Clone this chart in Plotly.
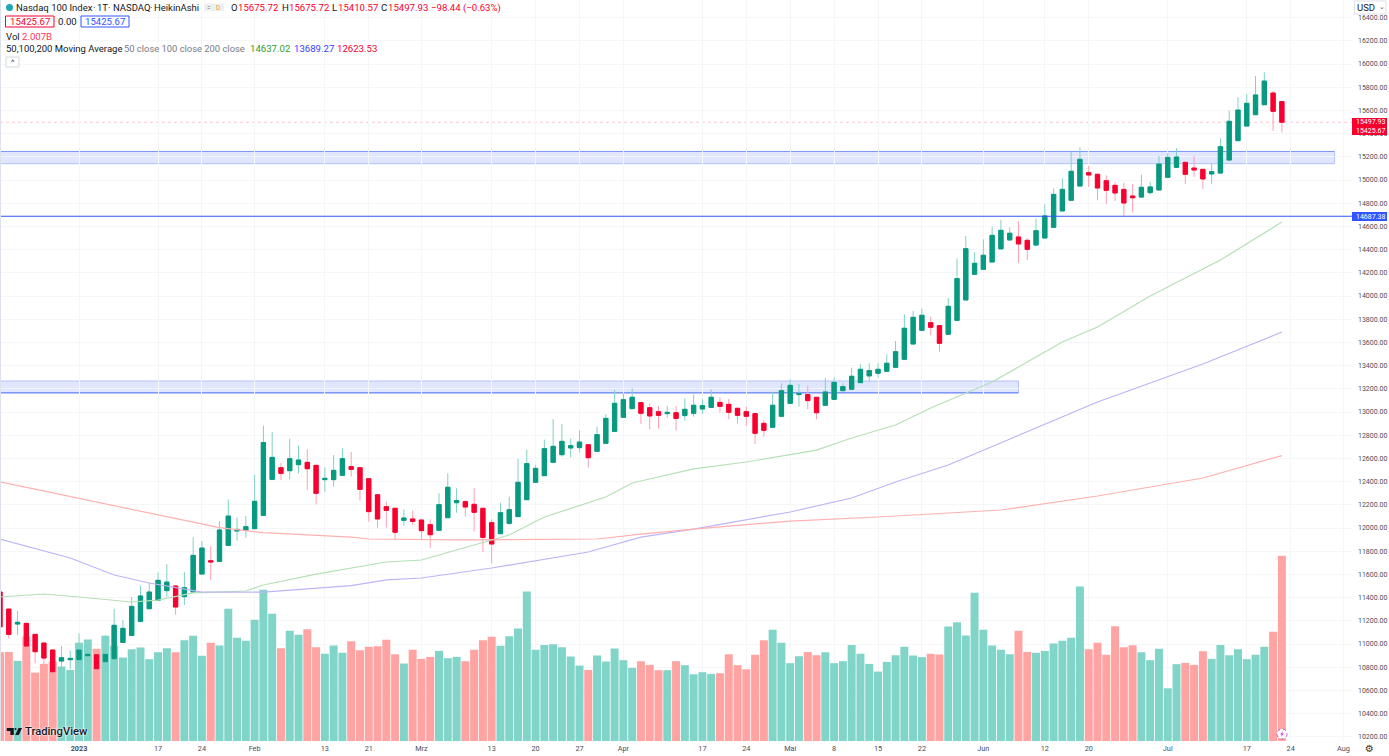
import plotly.graph_objects as go

# ---------- data ----------
opens = [
 11448,11301,11172,11178,11083,11008,10948,10853,10865,10865,
 10899,10908,10847,10873,11014,11074,11195,11304,11376,11460,
 11500,11408,11448,11603,11718,11712,11850,11974,11980,11994,
 12109,12419,12520,12494,12546,12566,12540,12417,12417,12454,
 12529,12520,12425,12287,12184,12170,12066,12078,12069,12029,
 11980,12089,12218,12227,12204,12170,12046,11951,12040,12098,
 12244,12394,12451,12566,12632,12690,12693,12718,12661,12730,
 12833,12954,13029,13081,13037,13003,12986,12994,12969,12989,
 13026,13040,13083,13066,13032,13003,12986,12902,12868,12963,
 13075,13150,13150,13127,13058,13109,13184,13196,13253,13311,
 13334,13351,13385,13454,13586,13704,13770,13745,13670,13790,
 13966,14187,14230,14293,14406,14483,14509,14480,14439,14500,
 14592,14733,14825,14948,15063,15049,14994,14954,14919,14862,
 14853,14891,14914,15023,15109,15152,15103,15092,15052,15060,
 15172,15339,15465,15563,15649,15750,15675.72]
highs = [
 11448,11301,11284,11178,11083,11008,10948,10982,10942,11092,
 10982,10908,11077,11304,11207,11405,11503,11531,11618,11689,
 11500,11620,11919,11888,11842,12060,12247,12089,12103,12460,
 12882,12828,12563,12770,12710,12678,12540,12523,12629,12687,
 12655,12520,12425,12287,12227,12170,12161,12149,12069,12075,
 12299,12471,12342,12241,12345,12170,12075,12218,12270,12595,
 12675,12543,12762,12940,12897,12773,12839,12718,12874,12983,
 13190,13161,13204,13081,13075,13052,13052,13052,13118,13150,
 13109,13196,13127,13112,13032,13046,12986,12931,13175,13247,
 13285,13242,13227,13127,13293,13299,13247,13382,13411,13420,
 13420,13497,13612,13842,13871,13891,13822,13745,13983,14325,
 14518,14377,14489,14592,14656,14592,14644,14497,14669,14790,
 14928,15014,15241,15281,15123,15049,15040,14983,14977,14965,
 15046,14983,15207,15230,15273,15152,15207,15092,15138,15359,
 15598,15713,15741,15897,15928,15767,15675.72]
lows = [
 11034,11049,11077,10790,10833,10813,10675,10775,10781,10770,
 10781,10727,10698,10873,11014,11074,11195,11304,11376,11408,
 11253,11336,11448,11603,11549,11712,11850,11891,11916,11994,
 12109,12419,12414,12419,12471,12330,12204,12310,12356,12454,
 12443,12236,12055,12003,12003,11902,12020,12023,11902,11830,
 11980,12089,12132,12098,11971,11793,11695,11951,12026,12098,
 12244,12394,12451,12566,12615,12606,12652,12520,12661,12730,
 12833,12954,13029,12897,12851,12856,12951,12839,12925,12960,
 12983,13040,12994,12937,12902,12879,12724,12787,12868,12963,
 13075,13046,13023,12937,13058,13109,13184,13196,13253,13265,
 13296,13351,13385,13454,13586,13704,13661,13520,13670,13790,
 13966,14187,14230,14293,14406,14483,14285,14310,14439,14500,
 14592,14733,14825,14948,14942,14825,14793,14819,14690,14721,
 14853,14876,14914,15023,15109,14965,15028,14922,14968,15060,
 15172,15339,15465,15563,15649,15425,15410.57]
closes = [
 11149,11083,11187,10982,10934,10879,10761,10882,10876,10948,
 10911,10787,10911,11161,11135,11324,11414,11448,11549,11534,
 11319,11485,11764,11827,11707,11983,12103,11988,12011,12230,
 12736,12609,12471,12598,12586,12511,12299,12428,12497,12598,
 12506,12333,12141,12078,12152,11963,12086,12057,11977,11942,
 12201,12351,12236,12181,12135,11919,11862,12132,12158,12394,
 12555,12514,12684,12704,12747,12710,12741,12606,12805,12945,
 13075,13106,13127,12989,12966,12971,12997,12945,13023,13058,
 13055,13127,13049,12997,12971,12963,12816,12842,13058,13184,
 13230,13158,13098,12994,13173,13256,13219,13308,13368,13357,
 13368,13420,13520,13722,13816,13834,13730,13592,13911,14150,
 14408,14282,14351,14523,14566,14541,14449,14402,14563,14690,
 14876,14919,15075,15178,15043,14931,14911,14888,14802,14847,
 14937,14940,15138,15195,15198,15049,15086,15009,15072,15287,
 15506,15603,15661,15733,15853,15592,15497.93]
volume_m = [
 962,965,868,1132,741,835,861,806,770,1063,
 1099,998,1139,1031,904,994,1012,886,962,1005,
 962,1092,1139,922,1063,1034,1432,1117,1085,1313,
 1638,1378,1005,1193,1150,1211,1016,944,1034,955,
 1081,984,1020,1027,1096,940,839,987,890,911,
 976,897,911,864,987,1092,1128,1031,1135,1219,
 1620,987,1041,1049,1016,915,817,770,926,861,
 1002,875,792,864,824,767,767,864,821,723,
 745,727,734,940,821,777,933,1092,1204,1063,
 843,918,965,929,962,843,864,1041,944,835,
 752,857,929,1020,926,908,944,937,1240,1287,
 1143,1605,1204,1034,987,940,1193,965,955,976,
 1056,1085,1117,1674,994,1063,933,1244,1016,1038,
 962,875,998,571,832,846,824,973,890,1041,
 929,994,886,933,1020,1182,2007]
down_volume_days = [0,1,3,4,5,6,11,20,24,32,35,36,40,41,42,43,44,45,47,48,49,53,54,55,56,
 67,73,74,75,77,82,83,84,85,86,87,92,93,106,107,116,117,124,125,126,127,128,129,135,136,137,145,146]

ma50_days = [0,5,9,15,18,22,28,30,36,40,44,48,52,58,62,69,72,79,85,93,97,102,106,110,113,117,121,125,131,139,146]
ma50_vals = [11405,11431,11405,11362,11379,11440,11457,11509,11603,11655,11707,11724,11810,11940,12095,12267,
             12388,12509,12569,12672,12776,12888,13034,13164,13259,13431,13603,13733,14000,14310,14637.02]
ma100_days = [0,8,13,17,23,30,40,44,48,56,67,73,79,90,97,102,108,112,117,125,137,146]
ma100_vals = [11905,11741,11595,11526,11448,11448,11504,11552,11569,11655,11793,11922,11991,12138,12259,12397,
              12543,12672,12828,13086,13414,13689.27]
ma200_days = [0,11,25,30,40,42,52,68,73,79,90,100,114,125,137,146]
ma200_vals = [12397,12224,12003,11960,11922,11905,11897,11905,11948,11991,12060,12095,12155,12276,12431,12623.53]

tick_days = [9,18,23,29,37,42,48,56,61,66,71,80,85,90,95,100,105,112,119,124,133,142,147,153]
tick_text = ["<b>2023</b>","17","24","Feb","13","21","Mrz","13","20","27","Apr","17","24","Mai","8","15","22",
             "Jun","12","20","Jul","17","24","Aug"]

zone_upper = (15141, 15246)
zone_lower = (13166, 13267)
zone_upper_end_day = 152
zone_lower_end_day = 116
level_price = 14687.38
last_close = 15497.93
last_value = 15425.67

# ---------- style ----------
W, H = 1389, 756
PL, PR, PB = 0, 1352, 741
GREEN, RED = "#089981", "#F7002F"
WICK_G, WICK_R = "#80D2C3", "#FF9FAE"
VOL_G, VOL_R = "#80D4C8", "#FFA3A3"
BLUE = "#3355FF"
FONT = "Roboto"
days = list(range(len(opens)))

def px(x): return x / PR
def py(y): return 1 - y / PB

fig = go.Figure()

fig.add_trace(go.Bar(
    x=days, y=volume_m, yaxis="y", hoverinfo="skip", showlegend=False,
    marker=dict(color=[VOL_R if i in down_volume_days else VOL_G for i in days], line=dict(width=0))))

fig.add_trace(go.Candlestick(
    x=days, open=opens, high=highs, low=lows, close=closes, yaxis="y2",
    hoverinfo="skip", showlegend=False, whiskerwidth=0,
    increasing=dict(line=dict(color=WICK_G, width=1), fillcolor=WICK_G),
    decreasing=dict(line=dict(color=WICK_R, width=1), fillcolor=WICK_R)))
fig.add_trace(go.Candlestick(
    x=days, open=opens, close=closes, yaxis="y2",
    high=[max(o, c) for o, c in zip(opens, closes)],
    low=[min(o, c) for o, c in zip(opens, closes)],
    hoverinfo="skip", showlegend=False, whiskerwidth=0,
    increasing=dict(line=dict(color=GREEN, width=1), fillcolor=GREEN),
    decreasing=dict(line=dict(color=RED, width=1), fillcolor=RED)))

for dd, vv, col in [(ma50_days, ma50_vals, "#B5E0B5"), (ma100_days, ma100_vals, "#BDB5F7"), (ma200_days, ma200_vals, "#FFB0B0")]:
    fig.add_trace(go.Scatter(x=dd, y=vv, yaxis="y2", mode="lines", hoverinfo="skip", showlegend=False,
                             line=dict(color=col, width=1.2)))

shapes = []
ann = []

def rect(x0, y0, x1, y1, fill="rgba(0,0,0,0)", line=None, lw=1):
    shapes.append(dict(type="rect", xref="paper", yref="paper", x0=px(x0), x1=px(x1), y0=py(y0), y1=py(y1),
                       fillcolor=fill, line=dict(color=line or "rgba(0,0,0,0)", width=lw if line else 0), layer="above"))

def text(x, y, s, color="#131722", size=9.6, anchor="left", family=FONT, shadow=None, weight=None):
    f = dict(family=family, size=size, color=color)
    if shadow:
        f["shadow"] = shadow
    if weight:
        f["weight"] = weight
    ann.append(dict(xref="paper", yref="paper", x=px(x), y=py(y), text=s, showarrow=False, xanchor=anchor,
                    yanchor="middle", font=f, borderpad=0, borderwidth=0))

# price zones and level lines
for (lo, hi), end in [(zone_upper, zone_upper_end_day), (zone_lower, zone_lower_end_day)]:
    shapes.append(dict(type="rect", xref="x", yref="y2", x0=-1, x1=end, y0=lo, y1=hi, layer="below",
                       fillcolor="#DFE6FE", line=dict(color="#B4C2FB", width=1)))
shapes.append(dict(type="line", xref="x", yref="y2", x0=-1, x1=zone_upper_end_day, y0=zone_upper[1], y1=zone_upper[1],
                   line=dict(color="#7F96F8", width=1), layer="below"))
shapes.append(dict(type="line", xref="x", yref="y2", x0=-1, x1=zone_lower_end_day, y0=zone_lower[0], y1=zone_lower[0],
                   line=dict(color="#7F96F8", width=1.5), layer="below"))
shapes.append(dict(type="line", xref="paper", yref="y2", x0=0, x1=1, y0=level_price, y1=level_price,
                   line=dict(color=BLUE, width=1.2)))
shapes.append(dict(type="line", xref="paper", yref="y2", x0=0, x1=1, y0=last_close, y1=last_close,
                   line=dict(color="#FFB7C3", width=0.8, dash="dot"), layer="below"))
shapes.append(dict(type="line", xref="paper", yref="paper", x0=0, x1=0, y0=0, y1=1,
                   line=dict(color="#DDE1EA", width=2)))

# right-hand price labels
rect(1352, 118, 1387, 127, fill=RED)
rect(1352, 126.5, 1387, 135, fill=RED)
rect(1352, 212, 1387, 221, fill=BLUE)
text(1370.5, 122.2, f"{last_close:.2f}", "#FFFFFF", 7.0, "center")
text(1370.5, 131.2, f"{last_value:.2f}", "#FFFFFF", 7.0, "center")
text(1370.5, 216.7, f"{level_price:.2f}", "#FFFFFF", 7.0, "center")

# USD box
rect(1354.5, 1, 1386, 14, fill="#FFFFFF", line="#DDE1EA")
text(1356.5, 7.5, "USD", "#131722", 9.5)
text(1382, 7, "⌄", "#555555", 7, "center")

# header text
shapes.append(dict(type="circle", xref="paper", yref="paper", x0=px(6), x1=px(13), y0=py(11), y1=py(4),
                   fillcolor="#1FA7B8", line=dict(width=0), layer="above"))
for xv, s in [(16, "Nasdaq 100 Index"), (92.5, "·"), (96.7, "1T"), (108.5, "·"), (113, "NASDAQ"), (150, "·"), (154, "HeikinAshi")]:
    text(xv, 7.5, s, "#131722", 9.5)
rect(204, 3.5, 224, 11, fill="#EEEFF2")
text(209, 7.5, "=", "#777777", 6.5, "center")
text(217.5, 7.5, "D", "#F59A2B", 6.5, "center")
for xv, s, c in [(231, "O", "#131722"), (238, "15675.72", RED), (282, "H", "#131722"), (289, "15675.72", RED),
                 (332, "L", "#131722"), (338, "15410.57", RED), (381, "C", "#131722"), (388, "15497.93", RED),
                 (431, "−98.44", RED), (463, "(−0.63%)", RED)]:
    text(xv, 7.5, s, c, 9.6)
rect(5.5, 16, 54, 27, fill="#FFFFFF", line=RED)
text(29.7, 21.5, "15425.67", RED, 9.6, "center")
text(58, 21.5, "0.00", "#131722", 9.6)
rect(81, 16, 129, 27, fill="#FFFFFF", line=BLUE)
text(105, 21.5, "15425.67", BLUE, 9.6, "center")
text(6, 36, "Vol", "#131722", 9.6)
text(22, 36, "2.007B", "#FF3355", 9.6)
text(6, 49, "50,100,200 Moving Average", "#131722", 9.5)
text(124, 49, "50 close 100 close 200 close", "#787B86", 9.4)
text(250, 49, "14637.02", "#2E9B2E", 9.6)
text(294, 49, "13689.27", "#3C3CFF", 9.6)
text(337, 49, "12623.53", "#F7002F", 9.6)
rect(6, 57, 19, 67, fill="#FFFFFF", line="#D5D8DF")
text(12.5, 62.5, "^", "#333333", 8, "center")

# TradingView logo
def p(x, y): return f"{px(x):.5f},{py(y):.5f}"
tv_paths = [
    f"M{p(6.8,728)}L{p(13.8,728)}L{p(13.8,735)}L{p(10.4,735)}L{p(10.4,731)}L{p(6.8,731)}Z",
    f"M{p(18.5,728)}L{p(22,728)}L{p(18.8,735)}L{p(15.2,735)}Z",
]
for d in tv_paths:
    shapes.append(dict(type="path", xref="paper", yref="paper", path=d, fillcolor="#131722", line=dict(width=0), layer="above"))
shapes.append(dict(type="circle", xref="paper", yref="paper", x0=px(14.5), x1=px(16.5), y0=py(730), y1=py(728),
                   fillcolor="#131722", line=dict(width=0), layer="above"))
text(25.3, 731.5, "TradingView", "#131722", 11.2, family="Roboto", shadow="0 0 2px #fff, 0 0 2px #fff", weight=500)

# misc icons
shapes.append(dict(type="circle", xref="paper", yref="paper", x0=px(1277), x1=px(1287), y0=py(739), y1=py(729),
                   fillcolor="#FFFFFF", line=dict(color="#C04BD8", width=1, dash="dot"), layer="above"))
shapes.append(dict(type="path", xref="paper", yref="paper", fillcolor="#C04BD8", line=dict(width=0), layer="above",
                   path=f"M{p(1283,731)}L{p(1280,734.6)}L{p(1281.8,734.6)}L{p(1281,737)}L{p(1284,733.4)}L{p(1282.2,733.4)}Z"))
text(1370, 748.5, "⚙", "#333333", 10, "center", family="DejaVu Sans")

fig.update_layout(
    width=W, height=H, autosize=False,
    margin=dict(l=0, r=W - PR, t=0, b=H - PB, pad=0, autoexpand=False),
    paper_bgcolor="#FFFFFF", plot_bgcolor="#FFFFFF",
    showlegend=False, bargap=0.09, boxmode="overlay", boxgap=0.3,
    xaxis=dict(range=[0, PR / 8.78], tickmode="array", tickvals=tick_days, ticktext=tick_text,
               showgrid=True, gridcolor="#F5F6F8", gridwidth=1, zeroline=False, showline=False,
               ticks="", rangeslider=dict(visible=False),
               tickfont=dict(family=FONT, size=7.3, color="#4A4E59"), ticklabelstandoff=2, tickangle=0),
    yaxis=dict(range=[0, 2007 * PB / 185.3], visible=False, showgrid=False, zeroline=False, fixedrange=True),
    yaxis2=dict(range=[10163.8, 16551.7], overlaying="y", side="right", tick0=0, dtick=200, tickformat=".2f",
                showgrid=True, gridcolor="#F5F6F8", gridwidth=1, zeroline=False, showline=False, ticks="",
                tickfont=dict(family=FONT, size=7.0, color="#4A4E59"), ticklabelstandoff=5),
    shapes=shapes, annotations=ann,
)

fig.write_html("out.html", config={"displayModeBar": False},
               post_script="document.body.style.margin='0';document.body.style.overflow='hidden';")
